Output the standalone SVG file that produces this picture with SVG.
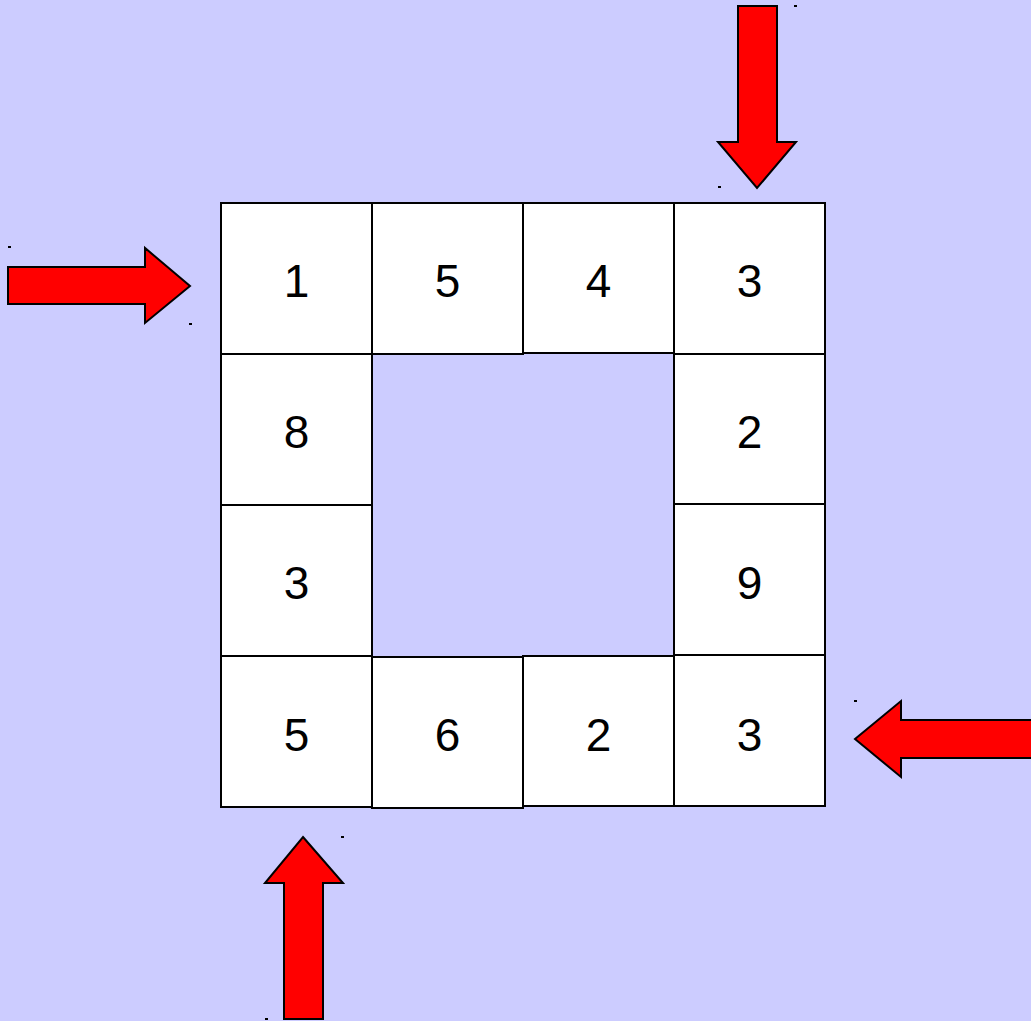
<svg xmlns="http://www.w3.org/2000/svg" width="1031" height="1021" viewBox="0 0 1031 1021">
<style>
.cell{fill:#ffffff;stroke:#000000;stroke-width:2}
.num{font-family:"Liberation Sans",Arial,sans-serif;font-size:46px;fill:#000000;text-anchor:middle}
.arrow{fill:#ff0000;stroke:#000000;stroke-width:2;stroke-linejoin:miter}
.dot{fill:#000000}
</style>
<rect x="0" y="0" width="1031" height="1021" fill="#ccccff"/>
<g id="connectors">
<g id="arrow-left">
<polygon class="arrow" points="8,267 145,267 145,248 190,286 145,323 145,304 8,304"/>
<rect class="dot" x="8" y="246" width="3" height="2"/>
<rect class="dot" x="189" y="323" width="3" height="2"/>
</g>
<g id="arrow-top">
<polygon class="arrow" points="738,6 777,6 777,142 796,142 757,188 718,142 738,142"/>
<rect class="dot" x="794" y="5" width="3" height="2"/>
<rect class="dot" x="718" y="186" width="3" height="2"/>
</g>
<g id="arrow-right">
<polygon class="arrow" points="1040,720 901,720 901,701 855,739 901,777 901,758 1040,758"/>
<rect class="dot" x="854" y="700" width="3" height="2"/>
</g>
<g id="arrow-bottom">
<polygon class="arrow" points="303,837 343,883 323,883 323,1019 284,1019 284,883 265,883"/>
<rect class="dot" x="341" y="836" width="3" height="2"/>
<rect class="dot" x="265" y="1018" width="3" height="2"/>
</g>
</g>
<g id="c1"><rect class="cell" x="221" y="203" width="151" height="151"/><text class="num" x="296.5" y="297">1</text></g>
<g id="c2"><rect class="cell" x="372" y="203" width="151" height="151"/><text class="num" x="447.5" y="297">5</text></g>
<g id="c3"><rect class="cell" x="523" y="203" width="151" height="150"/><text class="num" x="598.5" y="297">4</text></g>
<g id="c4"><rect class="cell" x="674" y="203" width="151" height="151"/><text class="num" x="749.5" y="297">3</text></g>
<g id="c5"><rect class="cell" x="221" y="354" width="151" height="151"/><text class="num" x="296.5" y="448">8</text></g>
<g id="c6"><rect class="cell" x="674" y="354" width="151" height="150"/><text class="num" x="749.5" y="448">2</text></g>
<g id="c7"><rect class="cell" x="221" y="505" width="151" height="151"/><text class="num" x="296.5" y="599">3</text></g>
<g id="c8"><rect class="cell" x="674" y="504" width="151" height="151"/><text class="num" x="749.5" y="599">9</text></g>
<g id="c9"><rect class="cell" x="221" y="656" width="151" height="151"/><text class="num" x="296.5" y="751">5</text></g>
<g id="c10"><rect class="cell" x="372" y="657" width="151" height="151"/><text class="num" x="447.5" y="751">6</text></g>
<g id="c11"><rect class="cell" x="523" y="656" width="151" height="150"/><text class="num" x="598.5" y="751">2</text></g>
<g id="c12"><rect class="cell" x="674" y="655" width="151" height="151"/><text class="num" x="749.5" y="751">3</text></g>
</svg>
